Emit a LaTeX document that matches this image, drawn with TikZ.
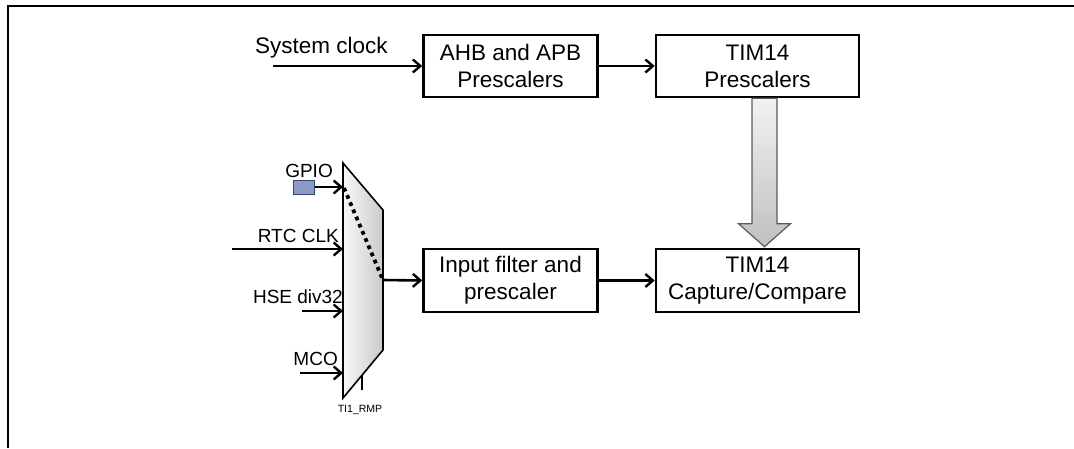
\documentclass[tikz,border=0pt]{standalone}
\usepackage{fontspec}
\setmainfont{Liberation Sans}
\usetikzlibrary{arrows.meta,calc}
\definecolor{gpioblue}{HTML}{8A9BC8}
\definecolor{gpioedge}{HTML}{3A4670}
\begin{document}
\begin{tikzpicture}[x=1pt,y=-1pt,
  blk/.style={draw,line width=2.6,minimum width=174,minimum height=62,align=center,
    inner sep=0,font=\fontsize{22.5}{27}\selectfont},
  lbl/.style={inner sep=0,font=\fontsize{22.5}{27}\selectfont},
  inlbl/.style={inner sep=0,font=\fontsize{19}{23}\selectfont},
  conn/.style={line width=2.6,-{Straight Barb[length=7.5pt,width=13pt,line width=2.4pt]}},
]
\useasboundingbox (0,0) rectangle (1074,448);

% outer frame
\draw[line width=2.4] (8,448) -- (8,6) -- (1074,6);

% processing blocks
\node[blk] (ahb) at (510.5,66) {AHB and APB\\Prescalers};
\node[blk,minimum width=203] (tpre) at (757.5,66) {TIM14\\Prescalers};
\node[blk,minimum height=63] (inf) at (510.5,280.5) {Input filter and\\prescaler};
\node[blk,minimum width=203,minimum height=63] (cap) at (757.5,280.5) {TIM14\\Capture/Compare};

% system clock path
\node[lbl,anchor=base west] (sys) at (255,53) {System clock};
\coordinate (sysin) at (273,66);
\draw[conn] (sysin) -- (ahb.west);
\draw[conn] (ahb.east) -- (tpre.west);

% wide shaded arrow from prescalers to capture/compare
\coordinate (ga) at ($(tpre.south)+(7,0)$);
\coordinate (gb) at ($(cap.north)+(7,0)$);
\draw[line width=1.2,draw=gray!70!black,top color=gray!10,bottom color=gray!50]
  ($(ga)+(-12.5,0)$) -- ($(gb)+(-12.5,-24)$) -- ($(gb)+(-26,-24)$) -- ($(gb)+(0,-1)$)
  -- ($(gb)+(26,-24)$) -- ($(gb)+(12.5,-24)$) -- ($(ga)+(12.5,0)$) -- cycle;

% input multiplexer
\coordinate (m1) at (343,163);
\coordinate (m2) at (383,210);
\coordinate (m3) at (383,350);
\coordinate (m4) at (343,398);
\draw[line width=1.6,left color=gray!5,right color=gray!42] (m1) -- (m2) -- (m3) -- (m4) -- cycle;
\coordinate (selA) at (344,188);
\coordinate (muxout) at (383,280);
\draw[line width=3.8,dash pattern=on 3.8pt off 4pt] (selA) -- (muxout);
\coordinate (tickA) at (362,375);
\coordinate (tickB) at (362,390);
\draw[line width=1.2] (tickA) -- (tickB);
\node[inner sep=0,font=\fontsize{10.5}{12}\selectfont,anchor=base] (rmp) at (360,412) {TI1\_RMP};

% multiplexer inputs
\node[draw=gpioedge,line width=1,fill=gpioblue,minimum width=21,minimum height=14,inner sep=0] (gsq) at (303.5,187) {};
\node[inlbl,anchor=base east] (gpio) at (333,177) {GPIO};
\coordinate (gin) at (343,187);
\draw[conn] (gsq.east) -- (gin);

\node[inlbl,anchor=base east] (rtc) at (339,242) {RTC CLK};
\coordinate (rtcA) at (232,249);
\coordinate (rtcB) at (343,249);
\draw[conn] (rtcA) -- (rtcB);

\node[inlbl,anchor=base east] (hse) at (343,303) {HSE div32};
\coordinate (hseA) at (302,311);
\coordinate (hseB) at (343,311);
\draw[conn] (hseA) -- (hseB);

\node[inlbl,anchor=base east] (mco) at (338,365) {MCO};
\coordinate (mcoA) at (300,373);
\coordinate (mcoB) at (343,373);
\draw[conn] (mcoA) -- (mcoB);

% multiplexer output and capture path
\draw[conn] (muxout) -- (inf.west);
\draw[conn] (inf.east) -- (cap.west);
\end{tikzpicture}
\end{document}
